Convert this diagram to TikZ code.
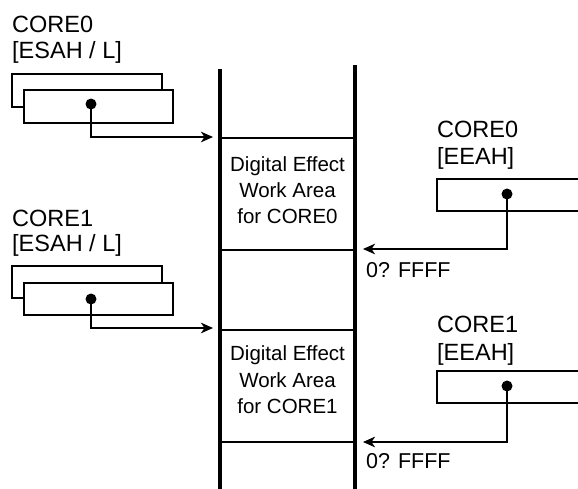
\documentclass[tikz,border=0pt]{standalone}
\usepackage{fontspec}
\setmainfont{Liberation Sans}
\usetikzlibrary{arrows.meta}
\begin{document}
\begin{tikzpicture}[x=1pt,y=-1pt,
  lbl/.style={anchor=base west,inner sep=0pt,font=\fontsize{23.5}{26}\selectfont},
  addr/.style={anchor=base west,inner sep=0pt,font=\fontsize{21.5}{25}\selectfont},
  btxt/.style={anchor=base,inner sep=0pt,font=\fontsize{20.5}{24}\selectfont},
  reg/.style={draw,line width=2pt,fill=white},
  col/.style={line width=3.3pt},
  sep/.style={line width=2.5pt},
  conn/.style={line width=2.5pt,-{Stealth[length=12pt,width=10.5pt,inset=3.5pt]}},
  dotc/.style={circle,fill=black,inner sep=0pt,minimum size=11pt}
]
\useasboundingbox (0,0) rectangle (578,488);
\clip (0,0) rectangle (578,488);

% memory column
\coordinate (lt) at (220,69);
\coordinate (lb) at (220,490);
\coordinate (rt) at (355,65);
\coordinate (rb) at (355,490);
\draw[col] (lt) -- (lb);
\draw[col] (rt) -- (rb);
\coordinate (s1l) at (220,138); \coordinate (s1r) at (355,138);
\coordinate (s2l) at (220,250); \coordinate (s2r) at (355,250);
\coordinate (s3l) at (220,330); \coordinate (s3r) at (355,330);
\coordinate (s4l) at (220,442); \coordinate (s4r) at (355,442);
\draw[sep] (s1l) -- (s1r);
\draw[sep] (s2l) -- (s2r);
\draw[sep] (s3l) -- (s3r);
\draw[sep] (s4l) -- (s4r);

\node[btxt] (a0) at (287.5,171) {Digital Effect};
\node[btxt] (b0) at (287.5,197) {Work Area};
\node[btxt] (c0) at (287.5,223) {for CORE0};
\node[btxt] (a1) at (287.5,360) {Digital Effect};
\node[btxt] (b1) at (287.5,387) {Work Area};
\node[btxt] (c1) at (287.5,413) {for CORE1};

% left CORE0
\node[lbl] (l0a) at (12,32) {CORE0};
\node[lbl] (l0b) at (12,58) {[ESAH / L]};
\draw[reg] (12,74) rectangle (162,107);
\node[reg,anchor=north west,minimum width=149pt,minimum height=33pt,inner sep=0pt] (f0) at (23,89) {};
\node[dotc] (d0) at (91,104) {};
\coordinate (t0) at (213,137);
\draw[conn] (d0.center) |- (t0);

% left CORE1
\node[lbl] (l1a) at (12,226) {CORE1};
\node[lbl] (l1b) at (12,251) {[ESAH / L]};
\draw[reg] (12,266) rectangle (162,298);
\node[reg,anchor=north west,minimum width=149pt,minimum height=32pt,inner sep=0pt] (f1) at (23,282) {};
\node[dotc] (d1) at (91,299) {};
\coordinate (t1) at (213,328);
\draw[conn] (d1.center) |- (t1);

% right CORE0
\node[lbl] (r0a) at (437,137) {CORE0};
\node[lbl] (r0b) at (437,164) {[EEAH]};
\node[reg,anchor=north west,minimum width=170pt,minimum height=32pt,inner sep=0pt] (e0) at (436,178) {};
\node[dotc] (g0) at (507,194) {};
\coordinate (u0) at (363,249);
\draw[conn] (g0.center) |- (u0);
\node[addr] (h0) at (366,277) {0? FFFF};

% right CORE1
\node[lbl] (r1a) at (437,332) {CORE1};
\node[lbl] (r1b) at (437,360) {[EEAH]};
\node[reg,anchor=north west,minimum width=170pt,minimum height=32pt,inner sep=0pt] (e1) at (436,370) {};
\node[dotc] (g1) at (507,386) {};
\coordinate (u1) at (363,442);
\draw[conn] (g1.center) |- (u1);
\node[addr] (h1) at (366,468) {0? FFFF};
\end{tikzpicture}
\end{document}
